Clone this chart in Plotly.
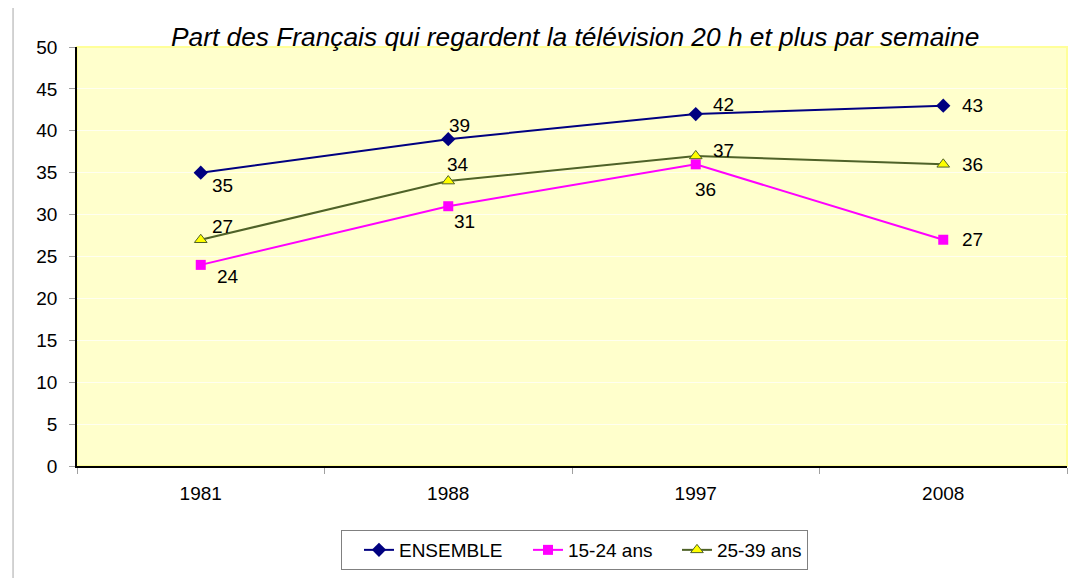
import plotly.graph_objects as go

years = ["1981", "1988", "1997", "2008"]
ensemble = [35, 39, 42, 43]
jeunes_15_24 = [24, 31, 36, 27]
adultes_25_39 = [27, 34, 37, 36]
y_ticks = [0, 5, 10, 15, 20, 25, 30, 35, 40, 45, 50]
title_text = "Part des Français qui regardent la télévision 20 h et plus par semaine"

# label offsets (pixels: right, up) for each data label
ensemble_shift = [(22, -13), (11, 14), (28, 10), (29, 0)]
jeunes_shift = [(27, -12), (16, -15), (10, -25), (29, 0)]
adultes_shift = [(22, 13), (10, 17), (28, 5), (29, 0)]

FONT = "Liberation Sans, Arial, sans-serif"
FS = 19

fig = go.Figure()

series = [
    ("ENSEMBLE", ensemble, ensemble_shift, 107,
     dict(color="#000080", width=2), dict(symbol="diamond", size=11, color="#000080")),
    ("15-24 ans", jeunes_15_24, jeunes_shift, 87,
     dict(color="#FF00FF", width=2), dict(symbol="square", size=10, color="#FF00FF")),
    ("25-39 ans", adultes_25_39, adultes_shift, 85,
     dict(color="#4F6228", width=2),
     dict(symbol="triangle-up", size=11, color="#FFFF00", line=dict(color="#4F6228", width=1))),
]

annotations = []
for name, vals, shifts, lw, line, marker in series:
    fig.add_trace(go.Scatter(x=years, y=vals, name=name, mode="lines+markers",
                             line=line, marker=marker, legendwidth=lw))
    for i, (yv, (dx, dy)) in enumerate(zip(vals, shifts)):
        annotations.append(dict(
            x=i, y=yv, xref="x", yref="y", text=str(yv), showarrow=False,
            xanchor="center", yanchor="middle", xshift=dx, yshift=dy,
            font=dict(family=FONT, size=FS, color="#000000"),
        ))

annotations.append(dict(
    text=title_text, xref="paper", yref="paper", x=0.503, y=1.0239,
    xanchor="center", yanchor="middle", showarrow=False,
    font=dict(family=FONT, size=26.3, color="#000000", style="italic"),
))

fig.update_layout(
    width=1080, height=570,
    margin=dict(l=69, r=21, t=39, b=112, autoexpand=False),
    paper_bgcolor="#FFFFFF",
    plot_bgcolor="#FFFFCC",
    font=dict(family=FONT, size=FS, color="#000000"),
    showlegend=True,
    legend=dict(
        orientation="h", x=0.5025, y=-0.2005, xanchor="center", yanchor="middle",
        bordercolor="#808080", borderwidth=1, bgcolor="#FFFFFF",
        font=dict(family=FONT, size=FS), traceorder="normal",
        indentation=17,
    ),
    xaxis=dict(
        type="category", range=[-0.5, 3.5], showgrid=False, showline=True,
        linecolor="#000000", linewidth=1.5,
        ticks="outside", tickson="boundaries", ticklen=6, tickcolor="#A0A0A0",
        ticklabelstandoff=9, zeroline=False,
    ),
    yaxis=dict(
        range=[0, 50], tickvals=y_ticks, showgrid=True, gridcolor="#FFFFF0", gridwidth=1,
        showline=True, linecolor="#000000", linewidth=1.5, ticks="outside", ticklen=6,
        tickcolor="#A0A0A0", ticklabelstandoff=8, zeroline=False,
    ),
    annotations=annotations,
    shapes=[
        dict(type="rect", xref="paper", yref="paper", x0=-0.0646, x1=1.2, y0=-0.5, y1=1.0979,
             line=dict(color="#A8A8A8", width=1), fillcolor="rgba(0,0,0,0)", layer="below"),
        dict(type="rect", xref="paper", yref="paper", x0=0, x1=1, y0=0, y1=1,
             line=dict(color="#FFFF99", width=2), fillcolor="rgba(0,0,0,0)", layer="below"),
    ],
)

fig.write_html("out.html")
